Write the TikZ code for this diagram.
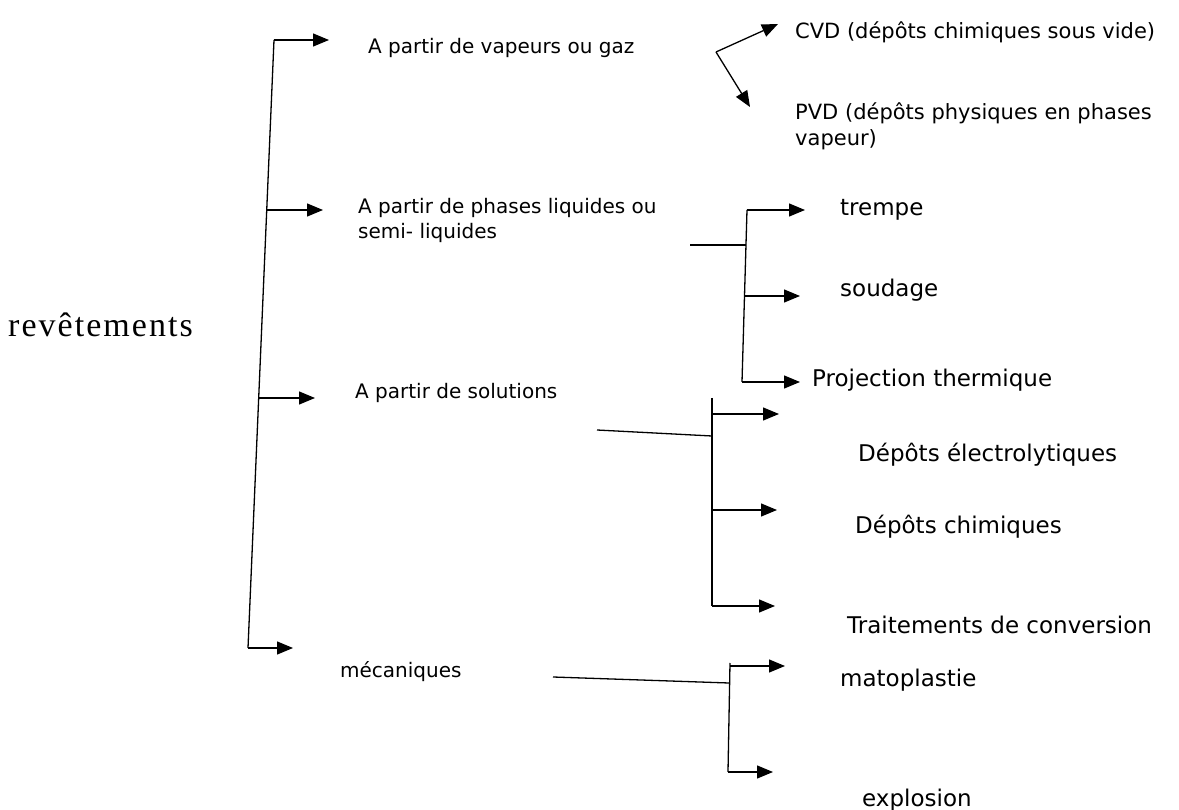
\documentclass[tikz,border=0pt]{standalone}
\usepackage{fontspec}
\setmainfont{DejaVu Sans}
\newfontfamily\titlefont[LetterSpace=6]{Liberation Serif}
\usetikzlibrary{arrows.meta}

\begin{document}
\begin{tikzpicture}[x=1pt,y=-1pt,
    lbl/.style={anchor=west, inner sep=0pt, align=left, font=\fontsize{20}{25}\selectfont},
    sub/.style={lbl, font=\fontsize{23}{27}\selectfont},
    arr/.style={line width=1.3pt, -{Triangle[length=16pt,width=13pt]}},
    ln/.style={line width=1.3pt}]
    \useasboundingbox (0,0) rectangle (1179,810);

    % title
    \node[lbl, font=\titlefont\fontsize{34}{36}\selectfont] (rev) at (8,325) {revêtements};

    % main bracket
    \coordinate (t1) at (274,40); \coordinate (t2) at (267,210);
    \coordinate (t3) at (259,398); \coordinate (t4) at (248,648);
    \draw[ln] (t1)--(t4);
    \coordinate (a1) at (329,40); \coordinate (a2) at (323,210);
    \coordinate (a3) at (315,398); \coordinate (a4) at (293,648);
    \draw[arr] (t1)--(a1); \draw[arr] (t2)--(a2);
    \draw[arr] (t3)--(a3); \draw[arr] (t4)--(a4);

    \node[lbl] (vap) at (368,48) {A partir de vapeurs ou gaz};
    \node[lbl] (liq) at (358,220) {A partir de phases liquides ou\\semi- liquides};
    \node[lbl] (sol) at (355,393) {A partir de solutions};
    \node[lbl] (mec) at (340,672) {mécaniques};

    % vapeurs ou gaz
    \coordinate (v1) at (716,52);
    \coordinate (v2) at (778,24); \coordinate (v3) at (750,107);
    \draw[arr] (v1)--(v2); \draw[arr] (v1)--(v3);
    \node[sub, font=\fontsize{21}{26}\selectfont] (cvd) at (795,32) {CVD (dépôts chimiques sous vide)};
    \node[sub, font=\fontsize{21}{26}\selectfont] (pvd) at (795,126) {PVD (dépôts physiques en phases\\vapeur)};

    % phases liquides
    \coordinate (l0) at (690,245); \coordinate (l1) at (746,245);
    \coordinate (lt) at (747,210); \coordinate (lm) at (745,296); \coordinate (lb) at (742,382);
    \draw[ln] (l0)--(l1); \draw[ln] (lt)--(lb);
    \coordinate (lt') at (805,210); \coordinate (lm') at (800,296); \coordinate (lb') at (800,382);
    \draw[arr] (lt)--(lt'); \draw[arr] (lm)--(lm'); \draw[arr] (lb)--(lb');
    \node[sub] (tre) at (840,210) {trempe};
    \node[sub] (sou) at (840,290) {soudage};
    \node[sub] (pro) at (812,380) {Projection thermique};

    % solutions
    \coordinate (s0) at (597,430); \coordinate (s1) at (712,436);
    \coordinate (st) at (712,398); \coordinate (sb) at (712,606);
    \draw[ln] (s0)--(s1); \draw[ln] (st)--(sb);
    \coordinate (s2) at (712,414); \coordinate (s3) at (712,510);
    \coordinate (s2') at (779,414); \coordinate (s3') at (777,510); \coordinate (sb') at (775,606);
    \draw[arr] (s2)--(s2'); \draw[arr] (s3)--(s3'); \draw[arr] (sb)--(sb');
    \node[sub] (ele) at (858,455) {Dépôts électrolytiques};
    \node[sub] (chi) at (855,527) {Dépôts chimiques};
    \node[sub] (con) at (847,625) {Traitements de conversion};

    % mecaniques
    \coordinate (m0) at (553,677); \coordinate (m1) at (729,683);
    \coordinate (mt) at (730,663); \coordinate (mb) at (728,772);
    \draw[ln] (m0)--(m1); \draw[ln] (mt)--(mb);
    \coordinate (m2) at (730,666);
    \coordinate (m2') at (785,666); \coordinate (mb') at (773,772);
    \draw[arr] (m2)--(m2'); \draw[arr] (mb)--(mb');
    \node[sub] (mat) at (840,680) {matoplastie};
    \node[sub] (exp) at (862,800) {explosion};
\end{tikzpicture}
\end{document}
